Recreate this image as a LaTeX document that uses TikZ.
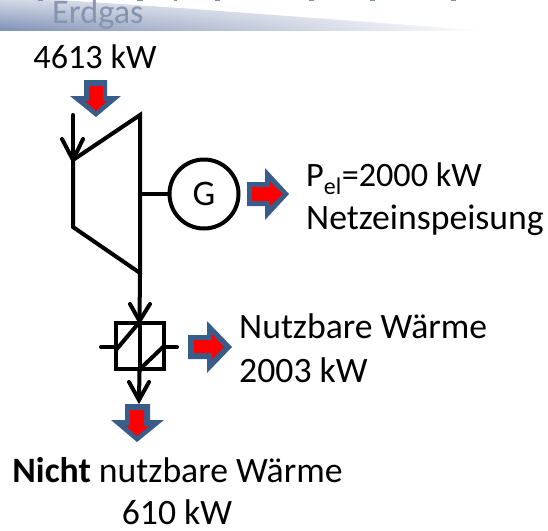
\documentclass[tikz,border=0pt]{standalone}
\usepackage{fontspec}
\usetikzlibrary{fadings}
\setmainfont{Carlito}
\definecolor{ablue}{RGB}{56,93,138}
\definecolor{bannerblue}{RGB}{125,143,180}
\definecolor{erdgray}{RGB}{135,148,175}
\tikzset{
  x=1pt,y=-1pt,
  pipe/.style={line width=4pt,line cap=round,line join=miter},
  lab/.style={font=\fontsize{35.7}{42}\selectfont,inner sep=0pt,text=black},
  labsmall/.style={lab,font=\fontsize{34.2}{41}\selectfont},
  outer/.style={fill=ablue,draw=none},
  inner/.style={fill=red,draw=none},
}
\begin{document}
\begin{tikzpicture}
\useasboundingbox (0,0) rectangle (548,530);
% banner
\shade[top color=bannerblue!35!white,bottom color=bannerblue,path fading=east] (0,0) -- (60,0) -- (180,8) -- (490,31) -- (0,31) -- cycle;
\foreach \mx/\mw in {40/5,140/6,175/3,217/5,311/5,372/5,453/5}
  \fill[bannerblue] (\mx-\mw/2,0) rectangle (\mx+\mw/2,1.2);
\node[labsmall,text=erdgray,anchor=base west] (erdgas) at (52,23) {Erdgas};
% labels
\node[labsmall,anchor=base] (fuel) at (95,68) {4613 kW};
\node[labsmall,anchor=base west] (pel) at (306,186) {P\textsubscript{el}=2000 kW};
\node[lab,anchor=base west] (netz) at (306,229) {Netzeinspeisung};
\node[lab,anchor=base west] (heat) at (239,338) {Nutzbare Wärme};
\node[lab,anchor=base west] (heatv) at (239,382) {2003 kW};
\node[lab,anchor=base] (loss) at (177.5,482) {\textbf{Nicht} nutzbare Wärme};
\node[lab,anchor=base] (lossv) at (177,524) {610 kW};
% block arrows
\draw[outer] (84,80) -- (107,80) -- (107,96) -- (121,96) -- (96,117) -- (70,96) -- (84,96) -- cycle;
\draw[inner] (89,86) -- (103,86) -- (103,101) -- (107,101) -- (96,111) -- (85,101) -- (89,101) -- cycle;
\draw[outer] (247,182) -- (265,182) -- (265,168) -- (289,194) -- (265,220) -- (265,206) -- (247,206) -- cycle;
\draw[inner] (252,187) -- (270,187) -- (270,182) -- (283,194) -- (270,206) -- (270,201) -- (252,201) -- cycle;
\draw[outer] (188,335) -- (207,335) -- (207,321) -- (232,347) -- (207,373) -- (207,359) -- (188,359) -- cycle;
\draw[inner] (194,340) -- (212,340) -- (212,334) -- (224,347) -- (212,359) -- (212,353) -- (194,353) -- cycle;
\draw[outer] (125,404) -- (150,404) -- (150,420) -- (164,420) -- (137,442) -- (111,420) -- (125,420) -- cycle;
\draw[inner] (130,410) -- (144,410) -- (144,426) -- (149,426) -- (137,436) -- (126,426) -- (130,426) -- cycle;
% turbine
\coordinate (inl) at (73,115);
\coordinate (tl) at (73,160);
\coordinate (tr) at (140,115);
\coordinate (bl) at (73,227);
\coordinate (br) at (140,273);
\coordinate (sh) at (140,194);
\draw[pipe] (tr) -- (tl) -- (bl) -- (br) -- cycle;
\draw[pipe] (inl) -- (tl);
\coordinate (ia) at (62,139); \coordinate (ib) at (83,139);
\draw[pipe] (ia) -- (tl) -- (ib);
\node[circle,draw,line width=4pt,minimum size=69pt,inner sep=0pt,font=\fontsize{36}{42}\selectfont] (gen) at (204,194) {G};
\draw[pipe] (sh) -- (gen);
% heat exchanger
\node[draw,line width=4pt,minimum width=48pt,minimum height=46pt,inner sep=0pt] (hx) at (139.5,346) {};
\coordinate (sl) at (101,347); \coordinate (sr) at (177,347);
\draw[pipe] (sl) -- (hx.west |- sl);
\draw[pipe] (sr) -- (hx.east |- sr);
\draw[pipe] (hx.north) -- (hx.south);
\coordinate (d1a) at (116,350); \coordinate (d1b) at (137,325);
\coordinate (d2a) at (141,368); \coordinate (d2b) at (163,347);
\draw[pipe] (d1a) -- (d1b);
\draw[pipe] (d2a) -- (d2b);
\draw[pipe] (br) -- (hx.north);
\coordinate (a1) at (130,304); \coordinate (a2) at (150,304);
\draw[pipe] (a1) -- (hx.north) -- (a2);
\coordinate (ot) at (139,400);
\draw[pipe] (hx.south) -- (ot);
\coordinate (a3) at (129,382); \coordinate (a4) at (149,382);
\draw[pipe] (a3) -- (ot) -- (a4);
\end{tikzpicture}
\end{document}
